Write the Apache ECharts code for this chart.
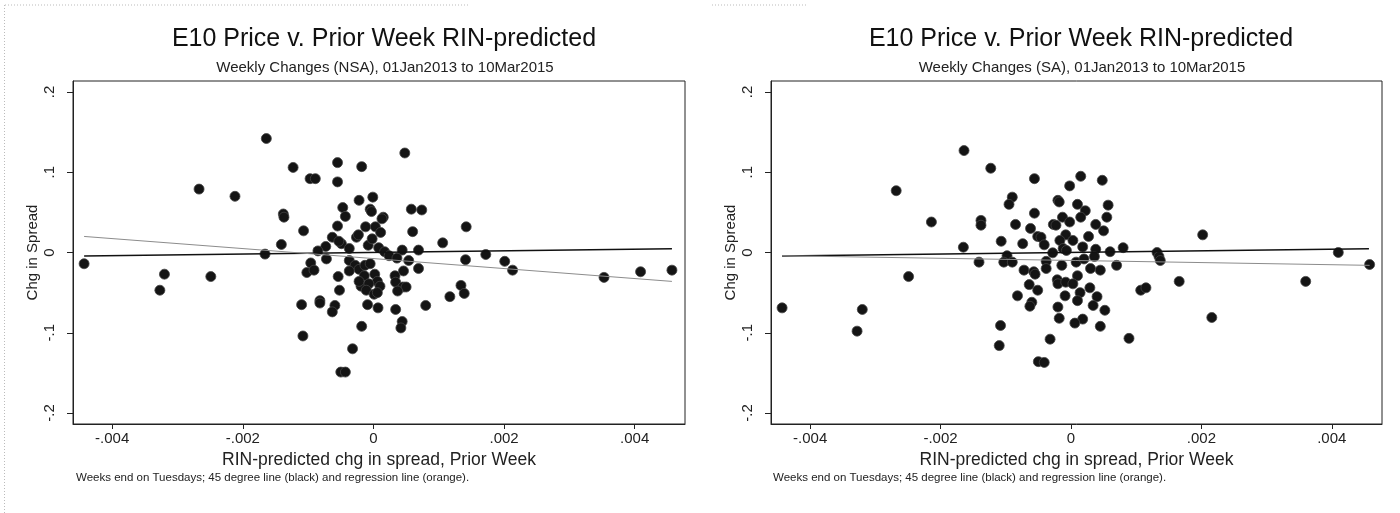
<!DOCTYPE html>
<html>
<head>
<meta charset="utf-8">
<script src="https://cdn.jsdelivr.net/npm/echarts@6/dist/echarts.min.js"></script>
<style>
html,body{margin:0;padding:0;background:#fff;}
#chart{width:1400px;height:513px;}
</style>
</head>
<body>
<div id="chart"></div>
<script>
// ---- data ----
var titleText = 'E10 Price v. Prior Week RIN-predicted';
var subNSA = 'Weekly Changes (NSA), 01Jan2013 to 10Mar2015';
var subSA = 'Weekly Changes (SA), 01Jan2013 to 10Mar2015';
var xName = 'RIN-predicted chg in spread, Prior Week';
var yName = 'Chg in Spread';
var noteText = 'Weeks end on Tuesdays; 45 degree line (black) and regression line (orange).';

var xTicks = [-0.004, -0.002, 0, 0.002, 0.004];
var yTicks = [-0.2, -0.1, 0, 0.1, 0.2];
var xRange = [-0.0046, 0.00477];
var yRange = [-0.2137, 0.2137];

var nsaPoints = [
[-0.00164,0.142],[-0.00123,0.106],[-0.00097,0.092],[-0.00089,0.092],[-0.00055,0.112],[-0.00055,0.088],
[-0.00018,0.107],[-0.00267,0.079],[-0.00212,0.070],[-0.00138,0.048],[-0.00137,0.044],[-0.00107,0.027],
[-0.00141,0.010],[-0.00166,-0.002],[-0.00443,-0.014],[-0.00047,0.056],[-0.00043,0.045],[-0.00022,0.065],
[-0.00001,0.069],[-0.00055,0.033],[-0.00063,0.019],[-0.00049,0.011],[-0.00073,0.0075],[-0.00085,0.002],
[-0.00026,0.019],[-0.00023,0.022],[-0.00012,0.032],[-0.00005,0.054],[-0.00003,0.051],[-0.00008,0.009],
[-0.00037,0.005],[-0.00002,0.017],[0.00003,0.032],[-0.00096,-0.013],[-0.00072,-0.008],[0.00048,0.124],
[0.00015,0.044],[0.00013,0.042],[0.00058,0.054],[0.00074,0.053],[0.00011,0.025],[0.0006,0.026],
[0.00142,0.032],[-0.00053,0.014],[0.00008,0.006],[0.00017,0.001],[0.00024,-0.004],[0.00044,0.003],
[0.00069,0.003],[0.00106,0.012],[-0.00037,-0.010],[0.00036,-0.007],[0.00054,-0.010],[0.00141,-0.009],
[-0.00102,-0.025],[-0.00091,-0.022],[-0.00028,-0.016],[-0.00022,-0.021],[-0.00013,-0.016],[-0.00005,-0.014],
[-0.00037,-0.023],[-0.00054,-0.030],[0.00069,-0.020],[0.00046,-0.023],[-0.00014,-0.029],[0.00002,-0.027],
[0.00033,-0.029],[0.00006,-0.036],[0.00034,-0.037],[-0.00019,-0.042],[-0.00022,-0.036],[-0.00007,-0.039],
[0.0001,-0.042],[0.00045,-0.043],[0.0005,-0.043],[0.00037,-0.048],[-0.00011,-0.047],[0.00001,-0.052],
[0.00006,-0.050],[-0.00052,-0.047],[0.00134,-0.041],[0.00139,-0.051],[0.00117,-0.055],[-0.00082,-0.060],
[-0.00082,-0.063],[-0.0011,-0.065],[-0.00059,-0.066],[-0.00063,-0.074],[-0.00009,-0.065],[0.00007,-0.069],
[0.00034,-0.071],[0.0008,-0.066],[0.00044,-0.086],[0.00042,-0.094],[-0.00018,-0.092],[-0.00108,-0.104],
[-0.00032,-0.120],[-0.0005,-0.149],[-0.00043,-0.149],[-0.0032,-0.027],[-0.00327,-0.047],[-0.00249,-0.030],
[0.00172,-0.0025],[0.00201,-0.011],[0.00213,-0.022],[0.00353,-0.031],[0.00409,-0.024],[0.00457,-0.022]
];

var saPoints = [
[-0.00164,0.127],[-0.00123,0.105],[-0.00056,0.092],[-0.00268,0.077],[-0.00214,0.038],[-0.0009,0.069],
[-0.00095,0.060],[-0.00056,0.049],[-0.0002,0.065],[-0.00018,0.063],[-0.00002,0.083],[-0.00138,0.040],
[-0.00138,0.034],[-0.00085,0.035],[-0.00013,0.044],[-0.00027,0.035],[-0.00023,0.034],[-0.00062,0.030],
[-0.00051,0.020],[-0.00046,0.019],[-0.00008,0.022],[-0.00002,0.038],[-0.00107,0.014],[-0.00074,0.011],
[-0.00041,0.0096],[-0.00017,0.015],[-0.00165,0.0066],[-0.00443,-0.069],[-0.00328,-0.098],[-0.0032,-0.071],
[-0.00249,-0.030],[-0.00141,-0.012],[-0.00098,-0.004],[-0.00103,-0.012],[-0.0009,-0.012],[-0.00072,-0.022],
[-0.00057,-0.024],[-0.00055,-0.027],[-0.00064,-0.040],[-0.00051,-0.047],[-0.00082,-0.054],[-0.0006,-0.062],
[-0.00063,-0.067],[-0.00038,-0.011],[-0.00038,-0.020],[-0.00028,-0.0004],[-0.00014,-0.016],[-0.00021,-0.034],
[-0.0002,-0.039],[-0.00008,-0.037],[-0.00009,-0.054],[-0.0002,-0.068],[-0.00018,-0.082],[-0.00032,-0.108],
[-0.0005,-0.136],[-0.00041,-0.137],[-0.00108,-0.091],[-0.0011,-0.116],[-0.00012,0.005],[-0.00007,0.0025],
[0.00015,0.095],[0.00048,0.090],[0.0001,0.060],[0.00057,0.059],[0.00022,0.052],[0.00015,0.044],
[0.00055,0.044],[0.00038,0.035],[0.0005,0.027],[0.00027,0.020],[0.00003,0.015],[0.00018,0.007],
[0.00038,0.004],[0.0006,0.001],[0.00132,0.000],[0.00135,-0.005],[0.00137,-0.010],[0.00202,0.022],
[0.00166,-0.036],[0.00107,-0.047],[0.00115,-0.044],[0.00089,-0.107],[0.00216,-0.081],[0.0036,-0.036],
[0.0041,0.000],[0.00458,-0.015],[0.00008,-0.012],[0.0003,-0.020],[0.0001,-0.029],[0.00045,-0.022],
[0.00003,-0.039],[0.00029,-0.044],[0.00014,-0.050],[0.0004,-0.055],[0.0001,-0.060],[0.00034,-0.066],
[0.00052,-0.072],[0.00018,-0.083],[0.00045,-0.092],[0.00006,-0.088],[0.0002,-0.008],[0.0007,-0.016],
[0.0008,0.006],[0.00036,-0.005]
];

// 45-degree line and fitted regression line endpoints
var line45 = [[-0.00443,-0.00443],[0.00457,0.00457]];
var regNSA = [[-0.00443,0.020],[0.00457,-0.036]];
var regSA = [[-0.00443,-0.004],[0.00458,-0.016]];

// ---- chart ----
var FONT = '"Liberation Sans", Arial, sans-serif';
function fmt(v){ if (Math.abs(v) < 1e-12) return '0'; return String(+v.toFixed(4)).replace('0.', '.'); }

function xAxisCfg(idx){
  return {
    type:'value', gridIndex:idx, min:xRange[0], max:xRange[1],
    name:xName, nameLocation:'middle', nameGap:26,
    nameTextStyle:{fontFamily:FONT, fontSize:17.5, color:'#222'},
    axisLine:{show:true, onZero:false, lineStyle:{color:'#222', width:1}},
    axisTick:{show:true, length:5, customValues:xTicks, lineStyle:{color:'#222'}},
    axisLabel:{customValues:xTicks, formatter:fmt, fontFamily:FONT, fontSize:15, color:'#222', margin:7},
    splitLine:{show:false}
  };
}
function yAxisCfg(idx){
  return {
    type:'value', gridIndex:idx, min:yRange[0], max:yRange[1],
    name:yName, nameLocation:'middle', nameGap:33, nameRotate:90,
    nameTextStyle:{fontFamily:FONT, fontSize:15, color:'#222'},
    axisLine:{show:true, onZero:false, lineStyle:{color:'#222', width:1}},
    axisTick:{show:true, length:6, customValues:yTicks, lineStyle:{color:'#222'}},
    axisLabel:{customValues:yTicks, formatter:fmt, rotate:90, fontFamily:FONT, fontSize:15, color:'#222', margin:16},
    splitLine:{show:false}
  };
}
function scatterSeries(idx, pts){
  return {type:'scatter', xAxisIndex:idx, yAxisIndex:idx, data:pts, symbol:'circle', symbolSize:10,
    itemStyle:{color:'#141414', borderColor:'#444', borderWidth:0.8, opacity:1}, z:2, silent:true};
}
function lineSeries(idx, pts, color, width){
  return {type:'line', xAxisIndex:idx, yAxisIndex:idx, data:pts, showSymbol:false, symbol:'none',
    lineStyle:{color:color, width:width}, z:3, silent:true, animation:false};
}

var chart = echarts.init(document.getElementById('chart'), null, {renderer:'canvas'});
chart.setOption({
  animation:false,
  backgroundColor:'#fff',
  title:[
    {text:titleText, left:379, top:22, textAlign:'center', textStyle:{fontFamily:FONT, fontSize:25, fontWeight:'normal', color:'#111'}},
    {text:subNSA, left:380, top:55, textAlign:'center', textStyle:{fontFamily:FONT, fontSize:15, fontWeight:'normal', color:'#222'}},
    {text:titleText, left:1076, top:22, textAlign:'center', textStyle:{fontFamily:FONT, fontSize:25, fontWeight:'normal', color:'#111'}},
    {text:subSA, left:1077, top:55, textAlign:'center', textStyle:{fontFamily:FONT, fontSize:15, fontWeight:'normal', color:'#222'}}
  ],
  grid:[
    {left:73, top:81, width:612, height:343, show:true, borderColor:'#222', borderWidth:1, backgroundColor:'#fff', containLabel:false},
    {left:771, top:81, width:611, height:343, show:true, borderColor:'#222', borderWidth:1, backgroundColor:'#fff', containLabel:false}
  ],
  xAxis:[xAxisCfg(0), xAxisCfg(1)],
  yAxis:[yAxisCfg(0), yAxisCfg(1)],
  series:[
    scatterSeries(0, nsaPoints),
    lineSeries(0, line45, '#111', 1.5),
    lineSeries(0, regNSA, '#8c8c8c', 1),
    scatterSeries(1, saPoints),
    lineSeries(1, line45, '#111', 1.5),
    lineSeries(1, regSA, '#8c8c8c', 1)
  ],
  graphic:[
    {type:'text', left:76, top:472, style:{text:noteText, fontFamily:FONT, fontSize:11.5, fill:'#222'}},
    {type:'text', left:773, top:472, style:{text:noteText, fontFamily:FONT, fontSize:11.5, fill:'#222'}},
    {type:'line', shape:{x1:5, y1:5, x2:470, y2:5}, style:{stroke:'#bbb', lineWidth:1, lineDash:[1,2]}},
    {type:'line', shape:{x1:4.5, y1:5, x2:4.5, y2:513}, style:{stroke:'#bbb', lineWidth:1, lineDash:[1,2]}},
    {type:'line', shape:{x1:712, y1:5, x2:808, y2:5}, style:{stroke:'#bbb', lineWidth:1, lineDash:[1,2]}}
  ]
});
</script>
</body>
</html>
